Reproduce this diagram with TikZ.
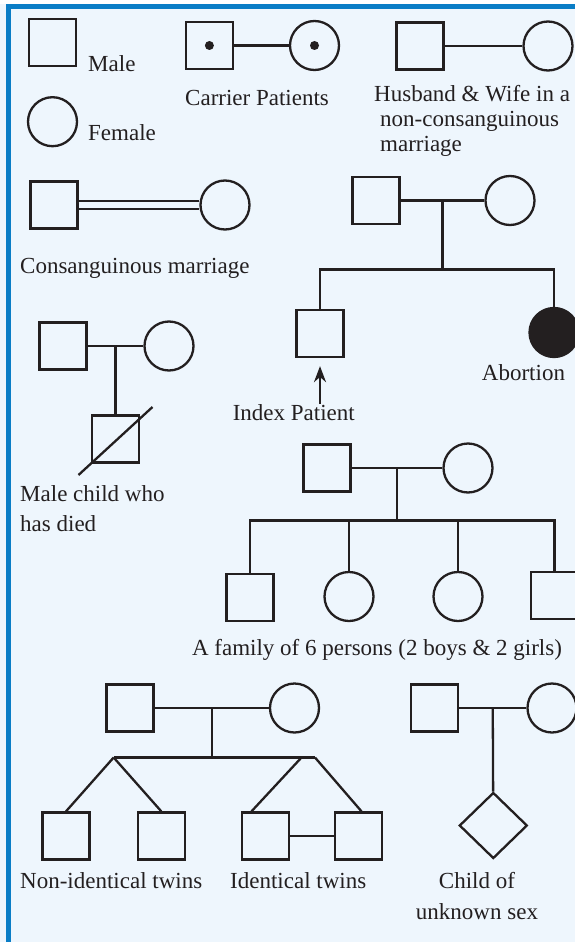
\documentclass[tikz,border=0pt]{standalone}
\usepackage{fontspec}
\setmainfont{Liberation Serif}
\usepackage{tikz}
\usetikzlibrary{positioning,calc,arrows.meta,shapes.geometric}
\definecolor{framebg}{HTML}{EEF6FD}
\definecolor{frameblue}{HTML}{0A7DC6}
\definecolor{pedink}{HTML}{231F20}

\begin{document}
\begin{tikzpicture}[x=1pt, y=-1pt, male/.style={draw=pedink, line width=2.3pt, minimum size=47pt, inner sep=0pt}, female/.style={circle, draw=pedink, line width=2.3pt, minimum size=49pt, inner sep=0pt}, unknown/.style={diamond, draw=pedink, line width=2.3pt, minimum width=68pt, minimum height=66pt, inner sep=0pt}, dot/.style={circle, fill=pedink, minimum size=9pt, inner sep=0pt}, link/.style={draw=pedink, line width=2.3pt}, consang/.style={draw=pedink, line width=2.3pt, double=framebg, double distance=5.4pt}, arrow/.style={-{Stealth[length=16pt,width=12pt]}, draw=pedink, line width=2.3pt}, pedtext/.style={inner sep=0pt, text=pedink, align=left, font=\fontsize{23}{30}\selectfont}]
\useasboundingbox (0,0) rectangle (575,942);
\clip (0,0) rectangle (575,942);
% frame
\fill[framebg] (0,0) rectangle (575,942);
\fill[white] (0,0) rectangle (575,4);
\fill[frameblue] (6,4) rectangle (575,9);
\fill[frameblue] (6,4) rectangle (11,942);
% legend
\node[male] (male) at (52.5,42.5) {};
\node[pedtext, anchor=base west] (lmale) at (88,71) {Male};
\node[female] (female) at (52.5,121.7) {};
\node[pedtext, anchor=base west] (lfemale) at (88,140) {Female};
\node[male] (cs) at (209.4,45.5) {};
\node[female] (cc) at (314.5,45.5) {};
\draw[link] (cs) -- (cc);
\node[dot] (csd) at (cs) {};
\node[dot] (ccd) at (cc) {};
\node[pedtext, anchor=base west] (lcarrier) at (185,105) {Carrier Patients};
\node[male] (hs) at (420,46) {};
\node[female] (hw) at (548,46) {};
\draw[link] (hs) -- (hw);
\node[pedtext, anchor=base west, font=\fontsize{23}{25}\selectfont] (lhw) at (374,151.7) {Husband \& Wife in a\\\hspace*{6pt}non-consanguinous\\\hspace*{6pt}marriage};
% consanguinous
\node[male] (ks) at (54,205) {};
\node[female] (kw) at (225,205) {};
\draw[consang] (ks) -- (kw);
\node[pedtext, anchor=base west] (lkm) at (20,273.3) {Consanguinous marriage};
% index patient and abortion
\node[male] (af) at (376,200.5) {};
\node[female] (am) at (510,200.5) {};
\draw[link] (af) -- (am);
\coordinate (a-jn) at ($(af.east)!.5!(am.west)$);
\coordinate (a-sib) at ($(a-jn)+(0,69)$);
\node[male] (idx) at (320,333.5) {};
\node[female, fill=pedink] (ab) at (554,332.5) {};
\draw[link] (a-jn) -- (a-sib);
\draw[link] (idx) |- (a-sib) -| (ab);
\node[pedtext, anchor=base] (lab) at (523.5,380) {Abortion};
\node[pedtext, anchor=base] (lip) at (293.8,420) {Index Patient};
\draw[arrow, shorten >=8pt] (lip.north -| idx) -- (idx.south);
% died
\node[male] (df) at (63,346) {};
\node[female] (dm) at (169,346) {};
\draw[link] (df) -- (dm);
\coordinate (d-jn) at ($(df.east)!.5!(dm.west)$);
\node[male] (dc) at (115.5,439) {};
\draw[link] (d-jn) -- (dc);
\draw[link] ($(dc)+(-37,36)$) -- ($(dc)+(37,-32)$);
\node[pedtext, anchor=base west] (ldied) at (20,531.7) {Male child who\\has died};
% family of six
\node[male] (ff) at (327,468) {};
\node[female] (fm) at (468,468) {};
\draw[link] (ff) -- (fm);
\coordinate (f-jn) at ($(ff.east)!.5!(fm.west)$);
\coordinate (f-sib) at ($(f-jn)+(0,52.5)$);
\node[male] (c1) at (250,597.5) {};
\node[female] (c2) at (349,596.5) {};
\node[female] (c3) at (458,596.5) {};
\node[male] (c4) at (554.5,595.5) {};
\draw[link] (f-jn) -- (f-sib);
\draw[link] (c1) |- (f-sib) -| (c4);
\draw[link] (c2) -- (c2 |- f-sib);
\draw[link] (c3) -- (c3 |- f-sib);
\node[pedtext, anchor=base] (lfam) at (377,655) {A family of 6 persons (2 boys \& 2 girls)};
% twins
\node[male] (tf) at (130,708) {};
\node[female] (tm) at (294.5,708) {};
\draw[link] (tf) -- (tm);
\coordinate (t-jn) at ($(tf.east)!.5!(tm.west)$);
\coordinate (t-sib) at ($(t-jn)+(0,49.5)$);
\node[male] (n1) at (66,836) {};
\node[male] (n2) at (161.3,836) {};
\node[male] (i1) at (265.5,836) {};
\node[male] (i2) at (358.5,836) {};
\coordinate (n-mid) at ($(n1.north)!.5!(n2.north)$);
\coordinate (n-ap) at (n-mid |- t-sib);
\coordinate (i-apl) at (301.5,757.5);
\coordinate (i-apr) at (315,757.5);
\draw[link] (t-jn) -- (t-sib);
\draw[link] (n-ap) -- (i-apr);
\draw[link] (n-ap) -- (n1.north);
\draw[link] (n-ap) -- (n2.north);
\draw[link] (i-apl) -- ($(i1.north)+(-14,0)$);
\draw[link] (i-apr) -- ($(i2.north)+(3,0)$);
\draw[link] (i1) -- (i2);
\node[pedtext, anchor=base west] (lnon) at (20,888.3) {Non-identical twins};
\node[pedtext, anchor=base west] (lid) at (230,888.3) {Identical twins};
% unknown sex
\node[male] (rf) at (434.5,708) {};
\node[female] (rm) at (552,708) {};
\draw[link] (rf) -- (rm);
\coordinate (r-jn) at ($(rf.east)!.5!(rm.west)$);
\node[unknown] (rc) at (493.3,825.5) {};
\draw[link] (r-jn) -- (rc);
\node[pedtext, anchor=base, align=center, font=\fontsize{23}{31}\selectfont] (lunk) at (477,919.3) {Child of\\unknown sex};
\end{tikzpicture}
\end{document}
